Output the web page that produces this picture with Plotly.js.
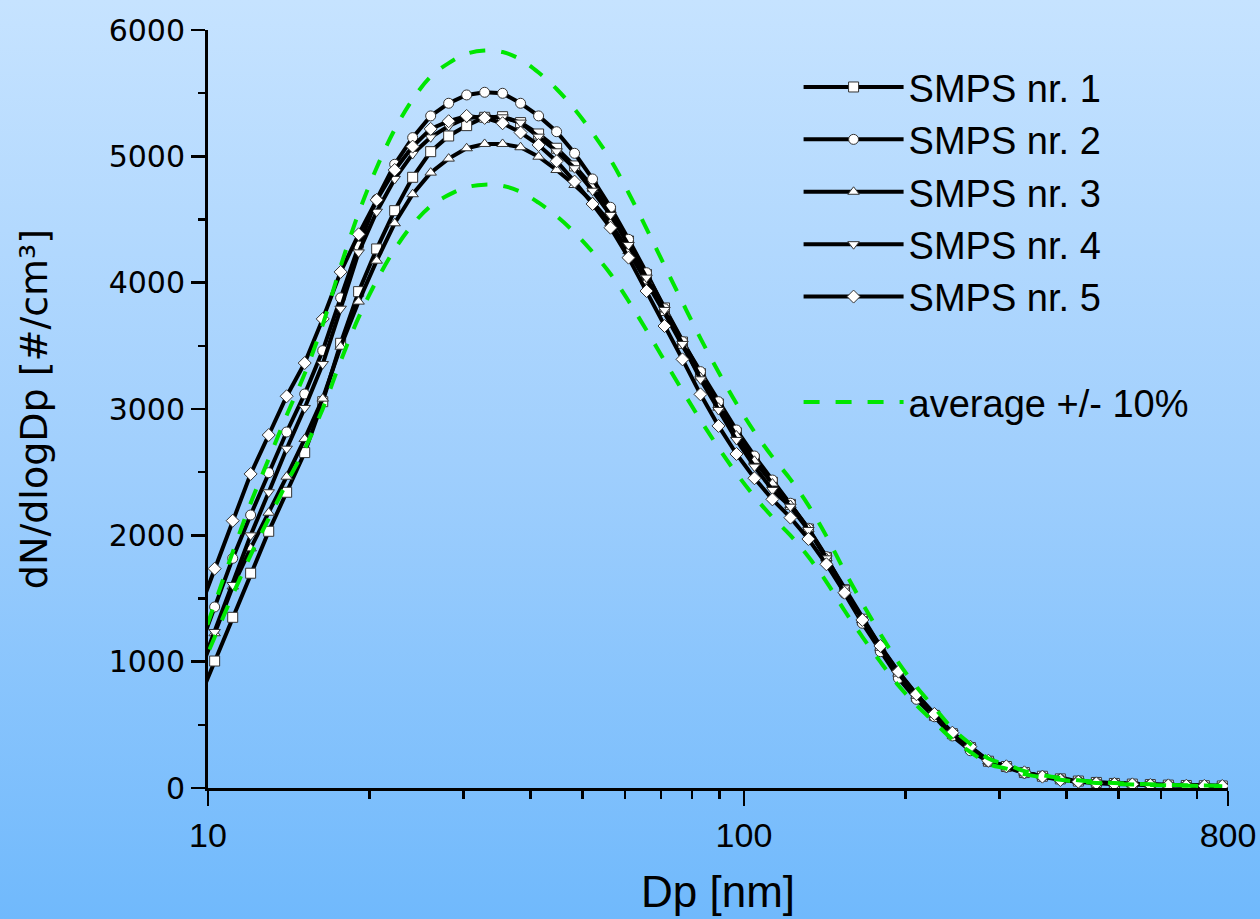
<!DOCTYPE html>
<html>
<head>
<meta charset="utf-8">
<script src="https://cdn.plot.ly/plotly-3.0.1.min.js"></script>
<style>
  html, body { margin: 0; padding: 0; }
  body { width: 1260px; height: 919px; background: linear-gradient(to bottom, #c6e3ff 0%, #a0cffd 50%, #70b9fc 100%); }
  #chart { width: 1260px; height: 919px; }
</style>
</head>
<body>
<div id="chart"></div>
<script>
// Particle diameter [nm] (first point lies just left of the axis range)
const dp = [9.53, 10.29, 11.12, 12.01, 12.98, 14.02, 15.15, 16.37, 17.68, 19.10, 20.64, 22.30, 24.09, 26.03, 28.12, 30.38, 32.82, 35.45, 38.30, 41.38, 44.71, 48.30, 52.18, 56.37, 60.90, 65.79, 71.08, 76.79, 82.96, 89.63, 96.83, 104.6, 113.0, 122.1, 131.9, 142.5, 154.0, 166.3, 179.7, 194.2, 209.8, 226.6, 244.8, 264.5, 285.8, 308.7, 333.6, 360.4, 389.3, 420.6, 454.4, 491.0, 530.4, 573.0, 619.1, 668.8, 722.6, 780.6];

const smps1 = [660, 1005,1351,1700,2032,2341,2655,3058,3520,3929,4267, 4570,4834,5037,5161,5243,5309,5314,5267,5177,5064, 4924,4760,4565,4330,4065,3800,3530,3280,3040,2810, 2600,2420,2245,2050,1825,1570,1330,1110,900,725, 575,430,320,212,170,122,93,72,55,44, 36,31,27,23,20,18,16];
const smps2 = [1048, 1433,1818,2161,2496,2818,3119,3462,3880,4290,4660, 4937,5148,5320,5420,5486,5507,5499,5420,5320,5195, 5024,4821,4597,4343,4079,3794,3533,3296,3058,2834, 2628,2438,2254,2056,1831,1541,1304,1079,868,702, 564,412,295,208,165,118,90,70,53,42, 35,30,26,22,19,17,15];
const smps3 = [855, 1225,1595,1897,2179,2464,2763,3082,3493,3850,4174, 4470,4700,4871,4982,5064,5098,5098,5072,4997,4892, 4773,4640,4470,4250,4010,3760,3500,3250,3010,2790, 2590,2410,2240,2050,1820,1565,1330,1110,905,730, 580,430,318,213,170,122,93,72,55,44, 36,31,27,23,20,18,16];
const smps4 = [863, 1235,1607,2000,2341,2686,3008,3356,3794,4240,4562, 4821,5019,5151,5240,5304,5314,5309,5267,5156,5040, 4906,4728,4536,4298,4040,3784,3515,3235,2992,2755, 2544,2359,2227,2042,1818,1581,1356,1120,915,740, 585,435,322,215,172,123,94,73,56,44, 36,31,27,23,20,18,16];
const smps5 = [1356, 1736,2116,2486,2794,3101,3364,3713,4085,4383,4655, 4892,5077,5217,5278,5320,5304,5262,5188,5090,4961, 4800,4623,4435,4198,3934,3657,3393,3116,2866,2644, 2452,2285,2140,1971,1771,1546,1330,1124,921,742, 586,438,327,216,172,124,90,63,50,37, 32,29,24,21,18,17,16];
const avgPlus10 = [1052, 1459,1867,2254,2605,2950,3280,3668,4130,4552,4910, 5212,5451,5631,5738,5812,5837,5826,5767,5663,5533, 5374,5186,4973,4712,4428,4135,3844,3559,3293,3043, 2819,2621,2443,2237,1994,1717,1463,1219,992,801, 636,472,348,233,187,134,102,79,61,48, 40,34,30,25,22,20,18];
const avgMinus10 = [861, 1194,1528,1844,2132,2414,2684,3001,3379,3725,4017, 4264,4460,4607,4695,4755,4776,4767,4719,4633,4527, 4397,4243,4069,3855,3623,3383,3145,2912,2694,2490, 2307,2144,1999,1830,1632,1405,1197,998,812,655, 520,386,285,191,153,110,84,65,50,40, 32,28,24,21,18,16,14];

const seriesNames = ['SMPS nr. 1', 'SMPS nr. 2', 'SMPS nr. 3', 'SMPS nr. 4', 'SMPS nr. 5'];
const seriesSymbols = ['square', 'circle', 'triangle-up', 'triangle-down', 'diamond'];
const seriesData = [smps1, smps2, smps3, smps4, smps5];

const xTickVals = [10, 100, 800];
const xTickText = ['10', '100', '800'];
const xMinorVals = [20, 30, 40, 50, 60, 70, 80, 90, 200, 300, 400, 500, 600, 700];

const traces = seriesData.map((ys, k) => ({
  type: 'scatter', mode: 'lines+markers',
  x: dp, y: ys, name: seriesNames[k],
  legendgroup: 'smps',
  line: { color: '#000000', width: 4 },
  marker: { symbol: seriesSymbols[k], size: 10, color: '#ffffff', line: { color: '#333333', width: 1 } }
}));

traces.push({
  type: 'scatter', mode: 'lines', x: dp, y: avgPlus10, name: 'average +/- 10%',
  legendgroup: 'avg',
  line: { color: '#00e600', width: 4, dash: '16px,16px', shape: 'spline', smoothing: 1 }
});
traces.push({
  type: 'scatter', mode: 'lines', x: dp, y: avgMinus10, name: 'average -10%',
  legendgroup: 'avg', showlegend: false,
  line: { color: '#00e600', width: 4, dash: '16px,16px', shape: 'spline', smoothing: 1 }
});

const layout = {
  width: 1260, height: 919,
  paper_bgcolor: 'rgba(0,0,0,0)', plot_bgcolor: 'rgba(0,0,0,0)',
  margin: { l: 208, r: 32, t: 30, b: 131 },
  showlegend: true,
  legend: {
    x: 0.579, y: 0.966, xanchor: 'left', yanchor: 'top',
    bgcolor: 'rgba(0,0,0,0)', borderwidth: 0,
    font: { family: 'Liberation Sans, Arial, sans-serif', size: 38, color: '#000' },
    itemwidth: 100, tracegroupgap: 53, traceorder: 'grouped'
  },
  xaxis: {
    type: 'log', range: [1, Math.log10(800)],
    tickmode: 'array', tickvals: xTickVals, ticktext: xTickText,
    ticks: 'outside', ticklen: 15, tickwidth: 2.5, tickcolor: '#000',
    showline: true, linewidth: 3, linecolor: '#000',
    showgrid: false, zeroline: false,
    tickfont: { family: 'Liberation Sans, Arial, sans-serif', size: 34, color: '#000' },
    minor: { tickmode: 'array', tickvals: xMinorVals, ticks: 'outside', ticklen: 8, tickwidth: 2.5, tickcolor: '#000', showgrid: false },
    title: { text: 'Dp [nm]', font: { family: 'Liberation Sans, Arial, sans-serif', size: 44, color: '#000' }, standoff: 24 }
  },
  yaxis: {
    range: [0, 6000], tick0: 0, dtick: 1000,
    ticks: 'outside', ticklen: 14, tickwidth: 2.5, tickcolor: '#000',
    showline: true, linewidth: 3, linecolor: '#000',
    showgrid: false, zeroline: false,
    tickfont: { family: 'DejaVu Sans, sans-serif', size: 30, color: '#000' },
    minor: { dtick: 500, ticks: 'outside', ticklen: 7, tickwidth: 2.5, tickcolor: '#000', showgrid: false },
    title: { text: 'dN/dlogDp [#/cm³]', font: { family: 'DejaVu Sans, sans-serif', size: 38, color: '#000' }, standoff: 50 }
  }
};

Plotly.newPlot('chart', traces, layout, { displayModeBar: false, staticPlot: true });
</script>
</body>
</html>
